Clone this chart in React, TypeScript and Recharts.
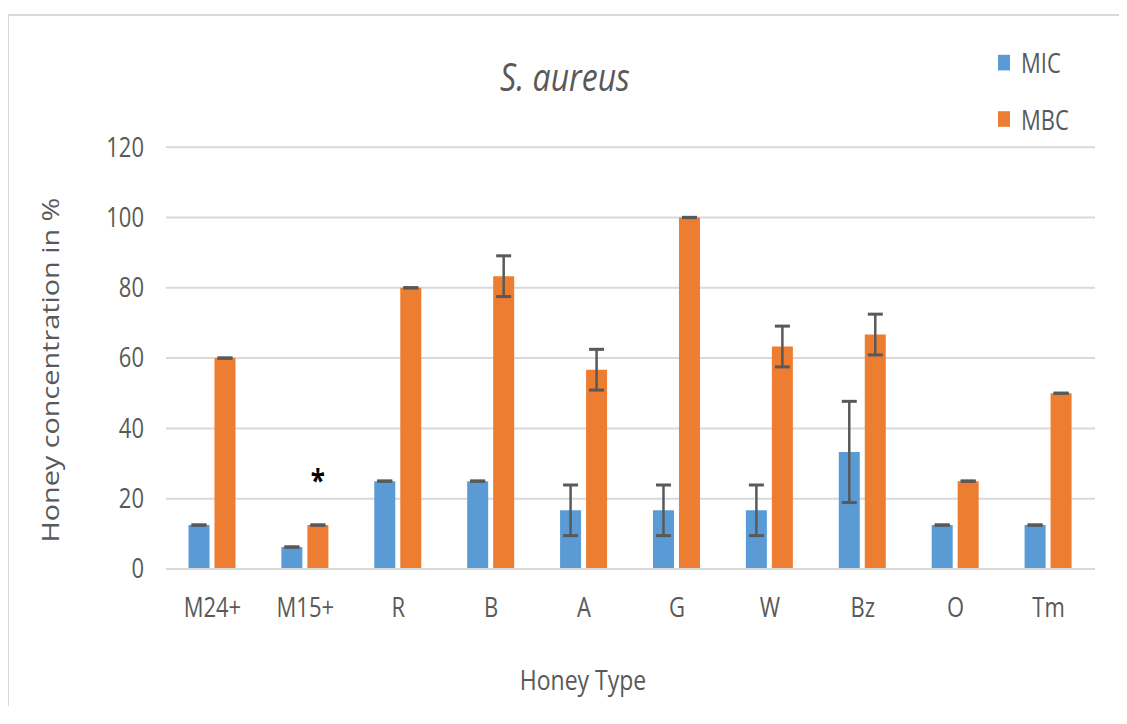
import React from 'react';
import { BarChart, Bar, XAxis, YAxis, CartesianGrid, ErrorBar, Legend, LabelList } from 'recharts';

const FONT = "'Open Sans', 'Noto Sans', sans-serif";
const TEXT = '#595959';

const categories = ['M24+', 'M15+', 'R', 'B', 'A', 'G', 'W', 'Bz', 'O', 'Tm'];
const micValues = [12.5, 6.25, 25, 25, 16.7, 16.7, 16.7, 33.3, 12.5, 12.5];
const micErrors = [0, 0, 0, 0, 7.2, 7.2, 7.2, 14.4, 0, 0];
const mbcValues = [60, 12.5, 80, 83.3, 56.7, 100, 63.3, 66.7, 25, 50];
const mbcErrors = [0, 0, 0, 5.8, 5.8, 0, 5.8, 5.8, 0, 0];
const markers = ['', '*', '', '', '', '', '', '', '', ''];
const yTicks = [0, 20, 40, 60, 80, 100, 120];
const seriesNames = ['MIC', 'MBC'];
const seriesColors = ['#5B9BD5', '#ED7D31'];
const chartTitle = 'S. aureus';
const xTitle = 'Honey Type';
const yTitle = 'Honey concentration in %';

// A zero error still shows its cap, as in the original; a tiny value makes the library draw it.
const capOnly = (e: number) => (e === 0 ? 0.05 : e);

const data = categories.map((c, i) => ({
  name: c,
  MIC: micValues[i],
  MICerr: capOnly(micErrors[i]),
  MBC: mbcValues[i],
  MBCerr: capOnly(mbcErrors[i]),
  mark: markers[i],
}));

function XTitle(props: any) {
  const vb = props.viewBox ?? { x: 158, y: 467.5, width: 929, height: 122.5 };
  const cx = vb.x + vb.width / 2 - 47.5;
  const y = vb.y + 100.8;
  return (
    <text x={cx} y={y} textAnchor="middle" fill={TEXT} fontSize={23} fontFamily={FONT}>
      {xTitle}
    </text>
  );
}

function YTitle(props: any) {
  const vb = props.viewBox ?? { x: 0, y: 116, width: 158, height: 351.7 };
  const cx = vb.x + 42;
  const cy = vb.y + vb.height / 2 + 10;
  return (
    <text
      x={cx}
      y={cy}
      dy="0.36em"
      transform={`rotate(-90 ${cx} ${cy})`}
      textAnchor="middle"
      fill={TEXT}
      fontSize={24}
      fontFamily={FONT}
    >
      {yTitle}
    </text>
  );
}

function renderLegend(props: any) {
  const payload = [...(props.payload ?? [])].sort(
    (a: any, b: any) => seriesNames.indexOf(a.value) - seriesNames.indexOf(b.value)
  );
  return (
    <div style={{ position: 'relative', width: 120, height: 90, fontFamily: FONT }}>
      {payload.map((it: any, i: number) => (
        <div
          key={it.value}
          style={{ position: 'absolute', left: 0, top: i * 47.5, height: 30, display: 'flex', alignItems: 'center' }}
        >
          <span style={{ width: 12, height: 13, background: it.color, display: 'inline-block' }} />
          <span style={{ marginLeft: 11, fontSize: 22, color: TEXT, lineHeight: '30px' }}>{it.value}</span>
        </div>
      ))}
    </div>
  );
}

export default function App() {
  return (
    <div style={{ position: 'relative', width: 1119, height: 700 }}>
      <div
        style={{
          position: 'absolute',
          left: -1,
          top: 6,
          width: 1118,
          height: 690,
          borderTop: '2px solid #d9d9d9',
          borderLeft: '2px solid #d9d9d9',
          pointerEvents: 'none',
        }}
      />
      <div
        style={{
          position: 'absolute',
          left: 0,
          top: 0,
          width: 1119,
          height: 590,
          transform: 'scaleY(1.2)',
          transformOrigin: '0 0',
        }}
      >
        <div
          style={{
            position: 'absolute',
            left: 0,
            top: 36.6,
            width: 1114,
            textAlign: 'center',
            fontFamily: FONT,
            fontStyle: 'italic',
            fontSize: 32,
            lineHeight: '40px',
            color: TEXT,
            zIndex: 2,
          }}
        >
          {chartTitle}
        </div>
        <BarChart
          width={1119}
          height={590}
          data={data}
          margin={{ top: 116, right: 32, bottom: 0, left: 0 }}
          barCategoryGap="24.2%"
          barGap={5}
        >
          <CartesianGrid vertical={false} stroke="#d9d9d9" strokeWidth={1.7} />
          <XAxis
            dataKey="name"
            height={122.5}
            interval={0}
            axisLine={{ stroke: '#d9d9d9', strokeWidth: 1.7 }}
            tickLine={false}
            tickSize={0}
            tickMargin={24}
            tick={{ fill: TEXT, fontSize: 22, fontFamily: FONT }}
            label={<XTitle />}
          />
          <YAxis
            width={158}
            domain={[0, 120]}
            ticks={yTicks}
            axisLine={false}
            tickLine={false}
            tickSize={0}
            tickMargin={22}
            tick={{ fill: TEXT, fontSize: 22, fontFamily: FONT }}
            label={<YTitle />}
          />
          <Legend
            layout="vertical"
            align="center"
            verticalAlign="middle"
            wrapperStyle={{ left: 990, top: 30, width: 120 }}
            content={renderLegend}
          />
          <Bar dataKey="MIC" name={seriesNames[0]} fill={seriesColors[0]} isAnimationActive={false}>
            <ErrorBar dataKey="MICerr" width={7.5} strokeWidth={2.5} stroke="#595959" direction="y" />
          </Bar>
          <Bar dataKey="MBC" name={seriesNames[1]} fill={seriesColors[1]} isAnimationActive={false}>
            <ErrorBar dataKey="MBCerr" width={7.5} strokeWidth={2.5} stroke="#595959" direction="y" />
            <LabelList dataKey="mark" position="top" offset={28} fill="#000" fontSize={26} fontWeight="bold" fontFamily={FONT} />
          </Bar>
        </BarChart>
      </div>
    </div>
  );
}
